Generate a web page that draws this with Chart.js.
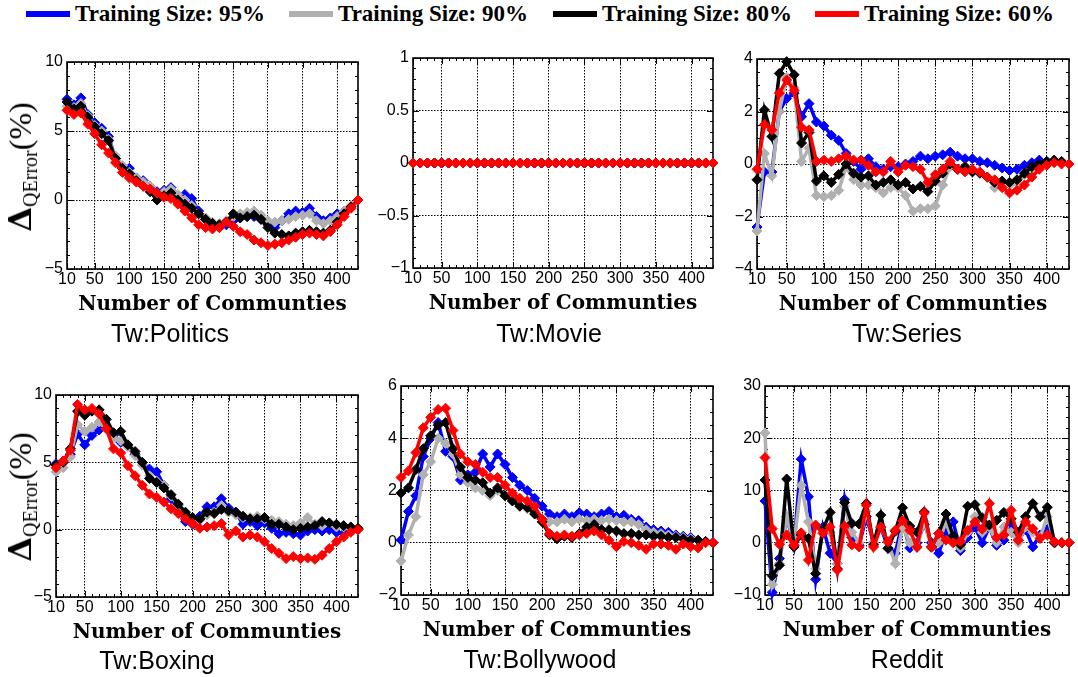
<!DOCTYPE html>
<html>
<head>
<meta charset="utf-8">
<script src="https://cdn.jsdelivr.net/npm/chart.js@4/dist/chart.umd.min.js"></script>
<style>
  html, body { margin: 0; padding: 0; background: #fff; }
  body { width: 1078px; height: 677px; position: relative; overflow: hidden; }
  canvas { position: absolute; }
  .legend-item { position: absolute; top: 0; height: 28px; display: flex; align-items: center; white-space: nowrap;
    font-family: "Liberation Serif", "Times New Roman", serif; font-weight: bold; font-size: 23px; color: #000; }
  .legend-bar { display: inline-block; width: 44px; height: 6px; margin-right: 5px; }
  .caption { position: absolute; transform: translate(-50%, -50%); white-space: nowrap;
    font-family: "Liberation Sans", Arial, Helvetica, sans-serif; font-size: 25px; color: #000; }
  .ylab { position: absolute; transform: translate(-50%, -50%) rotate(-90deg); white-space: nowrap; color: #000;
    font-family: "Liberation Serif", "Times New Roman", serif; font-size: 32px; line-height: 1; }
  .ylab b { font-family: "DejaVu Serif", serif; font-size: 32px; }
  .ylab sub { font-size: 20px; vertical-align: -6px; }
</style>
</head>
<body>
<script>
// x positions: number of communities
const COMMUNITIES = [10, 20, 30, 40, 50, 60, 70, 80, 90, 100, 110, 120, 130, 140, 150, 160, 170, 180, 190, 200,
  210, 220, 230, 240, 250, 260, 270, 280, 290, 300, 310, 320, 330, 340, 350, 360, 370, 380, 390, 400, 410, 420, 430];
const X_TICKS = [10, 50, 100, 150, 200, 250, 300, 350, 400];

const SERIES_LABELS = ['Training Size: 95%', 'Training Size: 90%', 'Training Size: 80%', 'Training Size: 60%'];
const SERIES_COLORS = ['#0000ff', '#b0b0b0', '#000000', '#ff0000'];

// Tw:Politics
const politics95 = [7.3, 6.9, 7.4, 6.2, 5.6, 5.2, 4.6, 3.0, 2.3, 2.3, 1.6, 1.4, 1.0, 0.6, 0.7, 0.9, 0.3, 0.4, 0.1, -0.8,
  -1.4, -1.7, -2.0, -1.8, -1.5, -1.3, -1.2, -1.2, -1.4, -1.8, -2.0, -1.5, -1.0, -0.8, -0.9, -0.6, -1.2, -1.5, -1.3, -1.0, -0.8, -0.5, 0];
const politics90 = [6.8, 6.7, 7.0, 6.1, 5.4, 5.0, 4.4, 3.2, 2.5, 2.0, 1.6, 1.3, 1.0, 0.5, 0.6, 0.8, 0.4, 0.0, -0.4, -1.0,
  -1.3, -1.6, -1.7, -1.5, -1.2, -1.0, -0.9, -0.8, -1.1, -1.5, -1.6, -1.5, -1.4, -1.2, -1.1, -1.0, -1.5, -1.7, -1.5, -1.2, -0.8, -0.4, 0];
const politics80 = [7.1, 6.6, 6.8, 6.0, 5.3, 4.8, 4.3, 3.0, 2.3, 1.9, 1.4, 1.0, 0.6, 0.0, 0.3, 0.5, 0.0, -0.3, -0.6, -1.0,
  -1.4, -1.7, -1.8, -1.6, -1.0, -1.3, -1.2, -1.1, -1.4, -2.0, -2.4, -2.5, -2.6, -2.4, -2.3, -2.2, -2.3, -2.4, -2.2, -1.6, -1.0, -0.5, 0];
const politics60 = [6.5, 6.2, 6.3, 5.5, 4.8, 4.0, 3.4, 2.7, 2.0, 1.6, 1.3, 1.0, 0.8, 0.5, 0.2, 0.1, -0.3, -0.8, -1.3, -1.8,
  -2.0, -2.1, -2.0, -1.6, -1.9, -2.3, -2.5, -2.9, -3.1, -3.3, -3.2, -3.1, -2.9, -2.7, -2.5, -2.4, -2.5, -2.6, -2.3, -1.8, -1.2, -0.6, 0];

// Tw:Movie
const movie95 = [0, 0, 0, 0, 0, 0, 0, 0, 0, 0, 0, 0, 0, 0, 0, 0, 0, 0, 0, 0, 0, 0, 0, 0, 0, 0, 0, 0, 0, 0, 0, 0, 0, 0, 0, 0, 0, 0, 0, 0, 0, 0, 0];
const movie90 = [0, 0, 0, 0, 0, 0, 0, 0, 0, 0, 0, 0, 0, 0, 0, 0, 0, 0, 0, 0, 0, 0, 0, 0, 0, 0, 0, 0, 0, 0, 0, 0, 0, 0, 0, 0, 0, 0, 0, 0, 0, 0, 0];
const movie80 = [0, 0, 0, 0, 0, 0, 0, 0, 0, 0, 0, 0, 0, 0, 0, 0, 0, 0, 0, 0, 0, 0, 0, 0, 0, 0, 0, 0, 0, 0, 0, 0, 0, 0, 0, 0, 0, 0, 0, 0, 0, 0, 0];
const movie60 = [0, 0, 0, 0, 0, 0, 0, 0, 0, 0, 0, 0, 0, 0, 0, 0, 0, 0, 0, 0, 0, 0, 0, 0, 0, 0, 0, 0, 0, 0, 0, 0, 0, 0, 0, 0, 0, 0, 0, 0, 0, 0, 0];

// Tw:Series
const series95 = [-2.4, -0.3, -0.3, 2.0, 2.5, 2.7, 1.8, 2.3, 1.6, 1.45, 1.1, 0.9, 0.4, 0.1, -0.2, 0.2, -0.1, -0.2, -0.1, -0.1,
  0.0, 0.1, 0.3, 0.2, 0.3, 0.35, 0.45, 0.3, 0.2, 0.2, 0.1, 0.05, -0.05, -0.15, -0.25, -0.2, -0.05, 0.05, 0.15, 0.1, 0.1, 0.05, 0];
const series90 = [-2.55, 0.4, -0.45, 2.0, 3.3, 2.9, 0.1, 0.6, -1.2, -1.25, -1.2, -1.0, -0.1, -0.6, -0.8, -0.8, -0.9, -1.1, -0.9, -0.9,
  -1.2, -1.8, -1.7, -1.7, -1.6, -0.8, -0.1, -0.2, -0.1, -0.3, -0.3, -0.5, -0.9, -0.8, -0.8, -0.7, -0.4, -0.3, -0.1, 0.0, 0.1, 0.05, 0];
const series80 = [-0.6, 2.06, 1.05, 3.45, 3.9, 3.4, 0.8, 1.2, -0.65, -0.45, -0.7, -0.4, 0.0, -0.35, -0.5, -0.45, -0.8, -0.7, -0.6, -0.8,
  -0.7, -0.95, -0.85, -1.05, -0.65, -0.35, 0.0, -0.2, -0.1, -0.3, -0.35, -0.5, -0.7, -0.65, -0.7, -0.6, -0.35, -0.1, 0, 0.1, 0.15, 0.1, 0];
const series60 = [-0.2, 1.5, 1.3, 2.7, 3.2, 2.8, 1.4, 1.3, 0.1, 0.15, 0.1, 0.2, 0.3, 0.15, 0.15, -0.05, -0.3, -0.3, 0.1, -0.3,
  -0.05, -0.1, -0.2, -0.7, -0.4, -0.2, 0.1, -0.2, -0.3, -0.2, -0.3, -0.5, -0.6, -0.9, -1.1, -1.0, -0.8, -0.5, -0.2, -0.05, 0.05, 0.0, 0];

// Tw:Boxing
const boxing95 = [4.9, 5.1, 5.6, 7.1, 6.3, 7.0, 7.4, 7.6, 7.0, 6.5, 6.2, 5.6, 5.0, 4.5, 4.3, 3.3, 2.3, 1.5, 0.6, 0.4,
  1.0, 1.7, 1.7, 2.3, 1.6, 1.3, 0.4, 0.6, 0.3, 0.5, 0.1, -0.3, -0.2, -0.3, -0.4, -0.1, 0.0, -0.1, 0.0, -0.2, -0.3, -0.1, 0];
const boxing90 = [4.3, 4.6, 5.4, 7.8, 7.3, 7.6, 8.0, 7.5, 6.8, 6.6, 6.2, 5.5, 4.8, 4.0, 3.6, 3.3, 2.5, 1.8, 1.0, 0.6,
  0.7, 1.1, 1.3, 1.8, 1.3, 1.1, 0.9, 0.9, 1.0, 0.8, 0.7, 0.6, 0.4, 0.3, 0.5, 0.9, 0.4, 0.3, 0.5, 0.2, 0.2, 0.1, 0];
const boxing80 = [4.8, 5.0, 6.0, 8.8, 8.5, 8.8, 8.9, 8.2, 7.2, 7.3, 6.3, 5.8, 5.0, 3.8, 3.5, 3.1, 2.6, 1.9, 1.3, 0.9,
  0.8, 1.3, 1.2, 1.5, 1.4, 1.3, 1.0, 0.8, 0.8, 0.9, 0.4, 0.4, 0.2, 0.0, 0.1, 0.2, 0.3, 0.6, 0.5, 0.4, 0.3, 0.2, 0.1];
const boxing60 = [4.6, 5.1, 5.9, 9.3, 8.9, 9.0, 8.6, 7.5, 6.0, 5.7, 4.75, 4.0, 3.3, 2.65, 2.4, 2.05, 1.55, 1.2, 0.8, 0.45,
  0.1, 0.2, 0.3, 0.45, -0.4, -0.1, -0.55, -0.4, -0.55, -0.9, -1.4, -1.75, -2.15, -2.0, -2.15, -2.1, -2.2, -1.9, -1.4, -0.9, -0.55, -0.2, 0];

// Tw:Bollywood
const bollywood95 = [0.1, 1.2, 1.8, 3.3, 4.0, 4.6, 3.5, 3.3, 2.4, 2.6, 2.7, 3.4, 2.9, 3.4, 3.0, 2.5, 2.2, 2.0, 1.7, 1.4,
  1.1, 1.0, 1.1, 1.0, 1.15, 1.1, 1.0, 1.1, 1.2, 1.0, 1.05, 0.9, 0.85, 0.6, 0.5, 0.45, 0.4, 0.3, 0.25, 0.2, 0.1, 0.05, 0];
const bollywood90 = [-0.7, 0.3, 1.0, 2.6, 3.1, 4.0, 3.8, 3.4, 2.6, 2.3, 2.1, 2.0, 1.8, 2.0, 1.8, 1.6, 1.4, 1.3, 1.1, 0.9,
  0.8, 0.8, 0.9, 0.8, 0.9, 0.85, 0.9, 0.85, 0.9, 0.85, 0.8, 0.8, 0.7, 0.5, 0.4, 0.35, 0.3, 0.25, 0.2, 0.15, 0.1, 0.05, 0];
const bollywood80 = [1.9, 2.1, 2.8, 3.6, 4.1, 4.5, 4.6, 3.6, 2.9, 2.5, 2.4, 2.3, 1.9, 2.1, 1.8, 1.6, 1.4, 1.35, 1.1, 0.8,
  0.3, 0.15, 0.25, 0.2, 0.35, 0.6, 0.7, 0.5, 0.5, 0.45, 0.35, 0.35, 0.3, 0.3, 0.25, 0.25, 0.2, 0.2, 0.15, 0.1, 0.1, 0.05, 0];
const bollywood60 = [2.5, 2.75, 3.45, 4.4, 4.8, 5.1, 5.15, 4.3, 3.4, 3.1, 3.0, 2.7, 2.5, 2.5, 2.2, 1.9, 1.7, 1.6, 1.4, 0.9,
  0.35, 0.25, 0.3, 0.25, 0.3, 0.35, 0.45, 0.3, 0.1, -0.15, 0.05, 0.0, -0.1, -0.25, -0.05, -0.05, -0.1, -0.25, -0.05, -0.15, -0.2, 0.0, 0];

// Reddit
const reddit95 = [8, -9.5, -3, 5, -0.5, 16, 8.8, -7, 3, -2, -4, 8.3, 1, -0.5, 5, 0, 3, -1, -2, 4,
  -1, 0, 3.5, 0, -2, 2, 4, -1.5, 1, 3, 0, 3, -0.5, 0.5, 3, 0.5, 2.5, -0.8, 1.5, 2.5, 0, 0, 0];
const reddit90 = [21, -8, -4, 5, 0, 11, 4, -5, 2, 2, -4, 7, 2, 0, 6, 0, 3, 0, -4, 3,
  0, -1, 4, -1, 0, 4, 0, -1, 2, 5, 2, 3, 0, 3, 2, 0, 3, 2, 1, 5, 0, 0, 0];
const reddit80 = [12, -6.3, -4.3, 12.2, -0.8, 1.5, 0.8, -5.9, 2.5, 5.8, -5, 7.7, 3.7, 3.6, 7.5, -0.4, 5.3, -1.1, 2.2, 6.7,
  3.2, 2.0, 5.9, -0.8, 1.8, 5.5, 1.3, -0.4, 7.0, 7.3, 4.8, 3.4, 4.3, 5.8, 4.6, 2.0, 5.0, 7.5, 5.0, 6.8, 0, 0, 0];
const reddit60 = [16.3, 2.7, -0.3, 1.5, -0.5, 1.9, -3.3, 3.4, 1.8, 3.0, -5.2, 3.2, -0.4, -0.8, 7.2, -0.8, 3.0, 0.2, 2.4, 4.2,
  2.4, -0.8, 5.7, -0.8, 1.8, 0.5, 0, 0.3, 2.4, 4.0, 2.6, 7.5, 1.0, 1.5, 6.2, 0.5, 4.0, 2.7, 0.8, 1.5, 0.2, 0, 0];

// Panel layout: plot-area rectangle (l, t, r, b) in page pixels, y range and minor step
const PANELS = [
  { name: 'Tw:Politics',  l: 67,  t: 62,  r: 358,  b: 269, ymin: -5,  ymax: 10, ystep: 5,   minor: 1,   cap: [170, 333], ylabel: true,
    values: [politics95, politics90, politics80, politics60] },
  { name: 'Tw:Movie',     l: 413, t: 58,  r: 713,  b: 268, ymin: -1,  ymax: 1,  ystep: 0.5, minor: 0.1, cap: [549, 333],
    values: [movie95, movie90, movie80, movie60] },
  { name: 'Tw:Series',    l: 757, t: 59,  r: 1069, b: 269, ymin: -4,  ymax: 4,  ystep: 2,   minor: 0.5, cap: [907, 333],
    values: [series95, series90, series80, series60] },
  { name: 'Tw:Boxing',    l: 56,  t: 395, r: 358,  b: 597, ymin: -5,  ymax: 10, ystep: 5,   minor: 1,   cap: [157, 660], ylabel: true,
    values: [boxing95, boxing90, boxing80, boxing60] },
  { name: 'Tw:Bollywood', l: 401, t: 386, r: 713,  b: 595, ymin: -2,  ymax: 6,  ystep: 2,   minor: 0.5, cap: [540, 659],
    values: [bollywood95, bollywood90, bollywood80, bollywood60] },
  { name: 'Reddit',       l: 765, t: 386, r: 1069, b: 595, ymin: -10, ymax: 30, ystep: 10,  minor: 2,   cap: [907, 659],
    values: [reddit95, reddit90, reddit80, reddit60] }
];

const Y_AXIS_W = 56, X_AXIS_H = 48, PAD_T = 14, PAD_R = 10, PAD_B = 4;
const TICK_FONT = { family: '"Liberation Sans", Arial, Helvetica, sans-serif', size: 16 };

function fmt(v) {
  const s = String(Math.round(v * 100) / 100);
  return v < 0 ? '\u2212' + s.slice(1) : s;
}

// axes box with inward major and minor tick marks on all four sides
function framePlugin(p) {
  return {
    id: 'frame',
    beforeDatasetsDraw(chart) {
      const { ctx, chartArea: a, scales: { x, y } } = chart;
      ctx.save();
      ctx.strokeStyle = '#000';
      ctx.lineWidth = 1;
      ctx.beginPath();
      COMMUNITIES.forEach(v => {
        const px = Math.round(x.getPixelForValue(v)) + 0.5;
        const len = X_TICKS.includes(v) ? 6 : 3;
        ctx.moveTo(px, a.bottom); ctx.lineTo(px, a.bottom - len);
        ctx.moveTo(px, a.top); ctx.lineTo(px, a.top + len);
      });
      const n = Math.round((p.ymax - p.ymin) / p.minor);
      for (let i = 0; i <= n; i++) {
        const v = p.ymin + i * p.minor;
        const major = Math.abs(v / p.ystep - Math.round(v / p.ystep)) < 1e-6;
        const py = Math.round(y.getPixelForValue(v)) + 0.5;
        const len = major ? 6 : 3;
        ctx.moveTo(a.left, py); ctx.lineTo(a.left + len, py);
        ctx.moveTo(a.right, py); ctx.lineTo(a.right - len, py);
      }
      ctx.stroke();
      ctx.lineWidth = 1.6;
      ctx.strokeRect(a.left, a.top, a.right - a.left, a.bottom - a.top);
      ctx.restore();
    }
  };
}

function makePanel(p) {
  const W = p.r - p.l + Y_AXIS_W + PAD_R;
  const H = p.b - p.t + PAD_T + X_AXIS_H + PAD_B;
  const cv = document.createElement('canvas');
  cv.width = W; cv.height = H;
  cv.style.width = W + 'px'; cv.style.height = H + 'px';
  cv.style.left = (p.l - Y_AXIS_W) + 'px';
  cv.style.top = (p.t - PAD_T) + 'px';
  document.body.appendChild(cv);

  const datasets = SERIES_LABELS.map((label, k) => ({
    label,
    data: COMMUNITIES.map((c, i) => ({ x: c, y: p.values[k][i] })),
    borderColor: SERIES_COLORS[k],
    backgroundColor: SERIES_COLORS[k],
    borderWidth: 3.5,
    pointStyle: 'rectRot',
    pointRadius: 5,
    pointBorderWidth: 1,
    tension: 0,
    clip: false,
    order: 4 - k
  }));

  new Chart(cv, {
    type: 'line',
    data: { datasets },
    options: {
      responsive: false,
      animation: false,
      devicePixelRatio: 1,
      layout: { padding: { left: 0, top: PAD_T, right: PAD_R, bottom: PAD_B } },
      plugins: { legend: { display: false }, tooltip: { enabled: false }, title: { display: false } },
      scales: {
        x: {
          type: 'linear', min: 10, max: 430,
          afterBuildTicks: s => { s.ticks = X_TICKS.map(v => ({ value: v })); },
          afterFit: s => { s.height = X_AXIS_H; },
          grid: { color: '#000', lineWidth: 1, drawTicks: false },
          border: { display: false, dash: [1.5, 1.5] },
          ticks: { padding: 1, color: '#000', font: TICK_FONT, maxRotation: 0, autoSkip: false },
          title: { display: true, text: 'Number of Communties', color: '#000', padding: 0,
                   font: { family: '"DejaVu Serif", serif', size: 20, weight: 'bold' } }
        },
        y: {
          min: p.ymin, max: p.ymax,
          afterFit: s => { s.width = Y_AXIS_W; },
          grid: { color: '#000', lineWidth: 1, drawTicks: false },
          border: { display: false, dash: [1.5, 1.5] },
          ticks: { stepSize: p.ystep, padding: 4, color: '#000', font: TICK_FONT, callback: v => fmt(v) }
        }
      }
    },
    plugins: [framePlugin(p)]
  });

  const cap = document.createElement('div');
  cap.className = 'caption';
  cap.textContent = p.name;
  cap.style.left = p.cap[0] + 'px';
  cap.style.top = p.cap[1] + 'px';
  document.body.appendChild(cap);

  if (p.ylabel) {
    const yl = document.createElement('div');
    yl.className = 'ylab';
    yl.innerHTML = '<b>\u0394</b><sub>QError</sub>(%)';
    yl.style.left = '22px';
    yl.style.top = ((p.t + p.b) / 2 + 1) + 'px';
    document.body.appendChild(yl);
  }
}

// shared legend across the top
const LEGEND_X = [26, 289, 553, 815];
SERIES_LABELS.forEach((label, k) => {
  const item = document.createElement('div');
  item.className = 'legend-item';
  item.style.left = LEGEND_X[k] + 'px';
  const bar = document.createElement('span');
  bar.className = 'legend-bar';
  bar.style.background = SERIES_COLORS[k];
  item.appendChild(bar);
  item.appendChild(document.createTextNode(label));
  document.body.appendChild(item);
});

PANELS.forEach(makePanel);
</script>
</body>
</html>
